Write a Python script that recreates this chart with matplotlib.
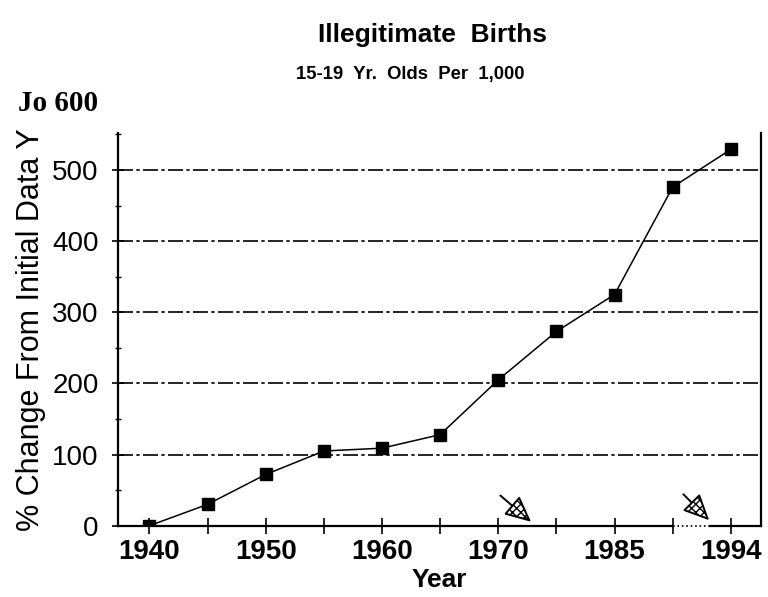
import matplotlib.pyplot as plt
import numpy as np

# Illegitimate births, 15-19 yr olds per 1,000 (% change from initial data year)
years = [1940, 1945, 1950, 1955, 1960, 1965, 1970, 1980, 1985, 1990, 1994]
pct_change = [0, 30, 72, 105, 109, 128, 205, 273, 325, 476, 529]
labeled_years = [1940, 1950, 1960, 1970, 1985, 1994]
y_ticks = [0, 100, 200, 300, 400, 500]


def main():
    plt.rcParams['font.family'] = ['Liberation Sans', 'DejaVu Sans']
    fig = plt.figure(figsize=(7.68, 5.97), dpi=100)
    ax = fig.add_axes([0.1536, 0.1194, 0.8374, 0.6578])

    x = np.arange(len(years))
    ax.plot(x, pct_change, color='black', lw=1.1, marker='s', markersize=8,
            markerfacecolor='black', zorder=3)

    ax.set_xlim(-0.54, 10.52)
    ax.set_ylim(0, 552)

    # dash-dot gridlines
    for v in y_ticks[1:]:
        ax.axhline(v, color='black', lw=1.2, linestyle=(0, (9, 2, 2, 2)), zorder=1)

    # x ticks: every point gets a tick, only some years labelled
    ax.set_xticks(x)
    ax.set_xticklabels([str(y) if y in labeled_years else '' for y in years],
                       fontsize=20, fontweight='bold')
    ax.set_yticks(y_ticks)
    ax.set_yticks(np.arange(50, 560, 100), minor=True)
    ax.set_yticklabels([str(v) for v in y_ticks], fontsize=20)
    ax.tick_params(axis='x', direction='inout', length=11, width=1.2, pad=4)
    ax.tick_params(axis='y', which='major', direction='inout', length=8,
                   width=1.2, pad=10)
    ax.tick_params(axis='y', which='minor', direction='inout', length=5, width=1)

    ax.spines['top'].set_visible(False)
    ax.spines['bottom'].set_visible(False)
    for s in ['left', 'right']:
        ax.spines[s].set_linewidth(1.6)

    # bottom axis with a broken (dotted) segment
    ax.plot([-0.54, 9.0], [0, 0], color='black', lw=1.6, clip_on=False, zorder=2)
    ax.plot([9.0, 9.65], [0, 0], color='black', lw=1.2, ls=':', clip_on=False, zorder=2)
    ax.plot([9.65, 10.52], [0, 0], color='black', lw=1.6, clip_on=False, zorder=2)

    # hatched arrows pointing to the axis
    for start, end in [((6.0, 45), (6.6, 3)), ((9.15, 47), (9.66, 5))]:
        ax.annotate('', xy=end, xytext=start,
                    arrowprops=dict(arrowstyle='-|>,head_length=1.6,head_width=0.75',
                                    ec='black', fc='white', lw=1.4, hatch='xxxx'))

    ax.set_xlabel('Year', fontsize=19, fontweight='bold', labelpad=2)
    ax.set_ylabel('% Change From Initial Data Y', fontsize=22, labelpad=4)

    fig.text(0.563, 0.941, 'Illegitimate  Births', ha='center', va='center',
             fontsize=19, fontweight='bold')
    fig.text(0.534, 0.876, '15-19  Yr.  Olds  Per  1,000', ha='center', va='center',
             fontsize=13.3, fontweight='bold')
    fig.text(0.023, 0.827, 'Jo 600', ha='left', va='center',
             fontsize=21, fontweight='bold', family='Liberation Serif')

    fig.savefig('out.png', dpi=100)


if __name__ == '__main__':
    main()
